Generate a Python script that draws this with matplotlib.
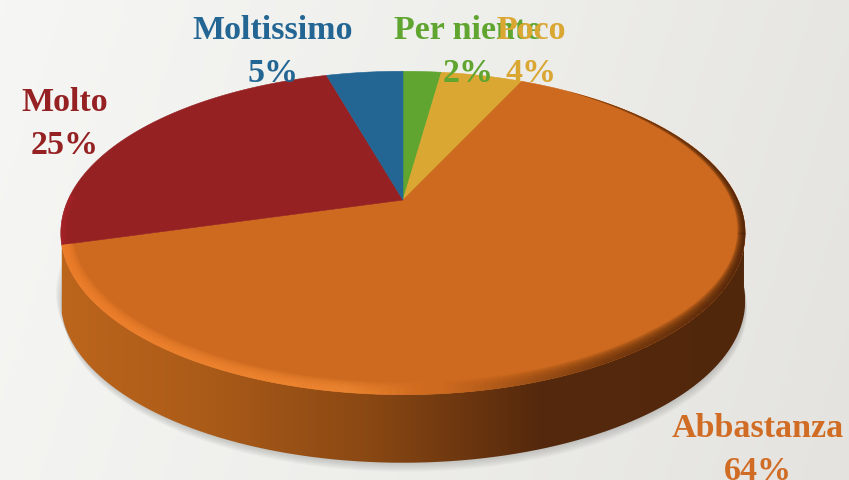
import numpy as np
import matplotlib
matplotlib.use('Agg')
import matplotlib.pyplot as plt
from matplotlib.collections import LineCollection
from matplotlib.colors import LinearSegmentedColormap
from matplotlib.patches import PathPatch
from matplotlib.path import Path

# valori, in senso orario da ore 12
categorie = ['Per niente', 'Poco', 'Abbastanza', 'Molto', 'Moltissimo']
percentuali = [2, 4, 64, 25, 5]
# ampiezza degli spicchi come appare nel disegno
quote = [2.2, 4.7, 63.7, 25.0, 4.4]
colori = ['#5FA52F', '#DAA732', '#CE6A1F', '#952123', '#236694']
colori_testo = ['#5FA52F', '#DAA732', '#D06C24', '#952123', '#236694']
pos_testo = [(468, 39, 82), (531, 39, 82), (758, 437, 480), (65, 111, 154), (273, 39, 82)]

cx, cy = 403, 200
b = 0.204
A, C = 335, 155
spessore = 68


def proietta(teta):
    # cerchio unitario -> ellisse in prospettiva (pixel)
    xu, yu = np.sin(teta), np.cos(teta)
    den = 1 + b*yu
    return cx + A*xu/den, cy - C*yu/den


def bordo(t, mappa, larghezze, zorder, clip, rampa=None):
    # linea sfumata lungo il bordo, colorata secondo la x
    xr, yr = proietta(t)
    punti = np.column_stack([xr, yr]).reshape(-1, 1, 2)
    seg = np.concatenate([punti[:-1], punti[1:]], axis=1)
    fattore = np.ones(len(seg)) if rampa is None else rampa
    for lw, al in larghezze:
        lc = LineCollection(seg, cmap=mappa, linewidths=lw*fattore, alpha=al, zorder=zorder, capstyle='butt')
        lc.set_array((xr[:-1] - 60)/685)
        lc.set_clim(0, 1)
        ax.add_collection(lc)
        lc.set_clip_path(clip)


fig = plt.figure(figsize=(8.49, 4.8), dpi=100)
ax = fig.add_axes([0, 0, 1, 1])
ax.set_xlim(0, 849)
ax.set_ylim(480, 0)
ax.axis('off')

# sfondo
sfondo = LinearSegmentedColormap.from_list('sf', ['#F6F6F4', '#EEEEEB', '#E4E3E0'])
xx, yy = np.meshgrid(np.linspace(0, 1, 200), np.linspace(0, 1, 120))
ax.imshow(xx*0.85 + yy*0.15, extent=[0, 849, 480, 0], cmap=sfondo, aspect='auto', zorder=0)

tt = np.linspace(0, 2*np.pi, 721)
xb, yb = proietta(tt)

# ombra sotto la torta
for k in range(10):
    ax.fill(xb + 2 - 0.2*k, yb + spessore + 9 - k, color='#8A8A88', alpha=0.05, lw=0, zorder=1)
    ax.fill(xb - 5 + 0.5*k, yb + spessore - 9 + k, color='#8A8A88', alpha=0.03, lw=0, zorder=1)

# fianco
ang = np.linspace(np.radians(97), np.radians(254), 400)
xs, ys = proietta(ang)
poli = np.concatenate([np.column_stack([xs, ys]), np.column_stack([xs, ys + spessore])[::-1]])
fianco = LinearSegmentedColormap.from_list(
    'fi', [(0, '#BC651C'), (0.2, '#AC5C19'), (0.45, '#8A4813'), (0.7, '#55290D'), (1, '#51270C')])
im = ax.imshow(np.linspace(0, 1, 400).reshape(1, -1), extent=[60, 745, 480, 0], cmap=fianco,
               aspect='auto', zorder=2)
im.set_clip_path(PathPatch(Path(poli), transform=ax.transData))

# spicchi
frazioni = np.cumsum([0] + quote)/sum(quote)
for i in range(len(quote)):
    t = np.linspace(frazioni[i], frazioni[i+1], 300)*2*np.pi
    xw, yw = proietta(t)
    ax.fill(np.r_[cx, xw], np.r_[cy, yw], color=colori[i], lw=0.4, zorder=3)

# smusso lungo il bordo del settore grande
t = np.linspace(frazioni[2], frazioni[3], 600)*2*np.pi
xw, yw = proietta(t)
faccia = PathPatch(Path(np.column_stack([np.r_[cx, xw, cx], np.r_[cy, yw, cy]])), transform=ax.transData)
luce = LinearSegmentedColormap.from_list(
    'lu', [(0, '#F58530'), (0.42, '#F38C36'), (0.56, '#CE6A1F'), (0.8, '#70380E'), (1, '#4A240B')])
sfuma = [(w, 0.16) for w in np.arange(18, 1, -1.5)]
t_bordo = np.linspace(np.radians(35), frazioni[3]*2*np.pi, 600)
rampa = np.clip((t_bordo[:-1] - np.radians(35))/np.radians(105), 0, 1)
bordo(t_bordo, luce, sfuma, 4, faccia, rampa)

# riflesso sul bordo rosso
t = np.linspace(frazioni[3], frazioni[3] + 0.05, 60)*2*np.pi
xw, yw = proietta(t)
rosso = PathPatch(Path(np.column_stack([np.r_[cx, xw, cx], np.r_[cy, yw, cy]])), transform=ax.transData)
bordo(t, LinearSegmentedColormap.from_list('ro', ['#B0242A', '#B0242A']), [(8, 0.3), (4, 0.4)], 4, rosso)

# etichette
for nome, v, c, p in zip(categorie, percentuali, colori_testo, pos_testo):
    ax.text(p[0], p[1], nome, color=c, fontsize=24.5, fontweight='bold', family='Liberation Serif',
            ha='center', va='baseline', zorder=6)
    ax.text(p[0], p[2], '%d%%' % v, color=c, fontsize=24.5, fontweight='bold', family='Liberation Serif',
            ha='center', va='baseline', zorder=6)

fig.savefig('out.png', dpi=100)
